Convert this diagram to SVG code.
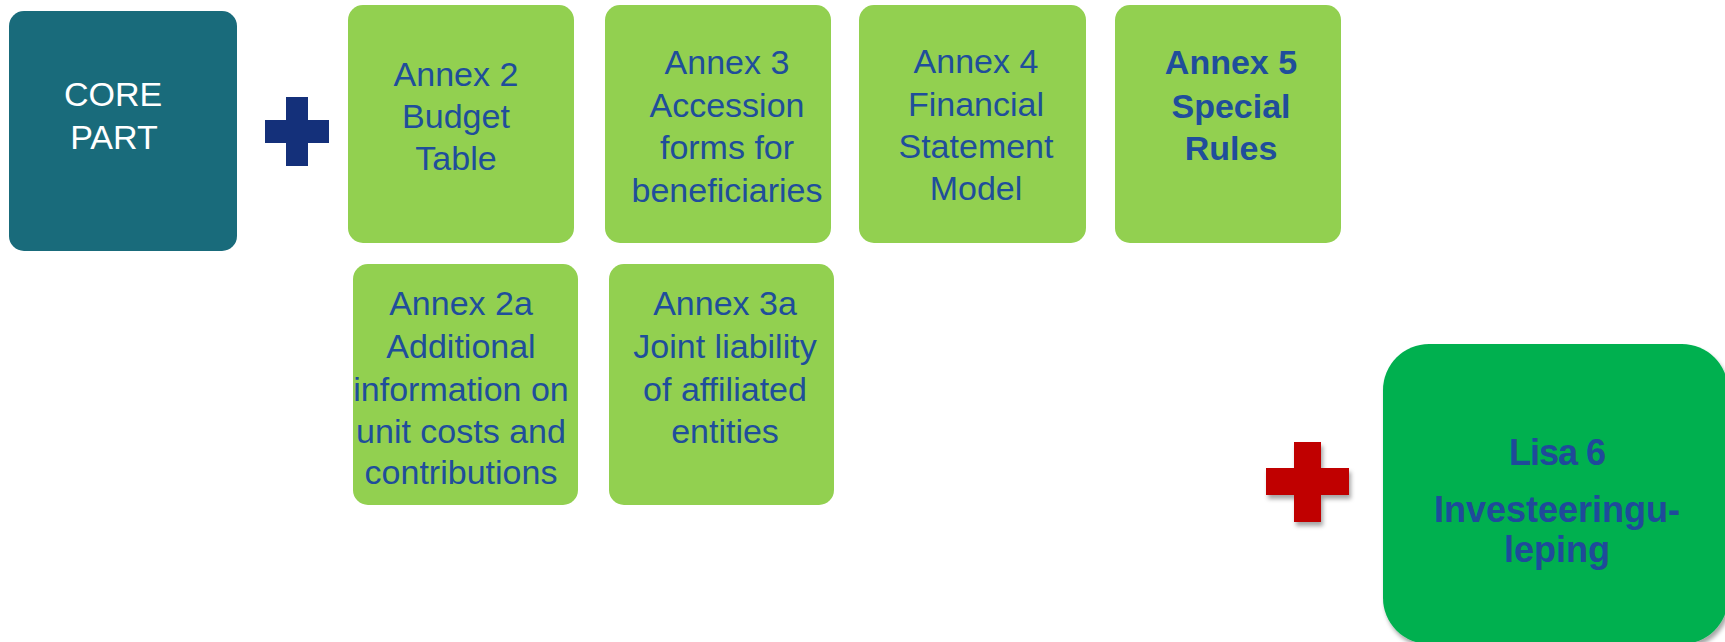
<svg xmlns="http://www.w3.org/2000/svg" width="1725" height="642" viewBox="0 0 1725 642">
  <defs>
    <style>
      .annex { fill: #92D050; }
      .t { font-family: "Liberation Sans", Arial, sans-serif; font-size: 34px; fill: #1F4E9B; text-anchor: middle; }
      .tb { font-weight: bold; }
      .core { font-family: "Liberation Sans", Arial, sans-serif; font-size: 34px; fill: #FFFFFF; text-anchor: middle; }
      .lisa { font-family: "Liberation Sans", Arial, sans-serif; font-size: 36px; font-weight: bold; fill: #1F4A9A; text-anchor: middle; }
    </style>
    <filter id="sh" x="-20%" y="-20%" width="150%" height="150%">
      <feGaussianBlur in="SourceAlpha" stdDeviation="2"/>
      <feOffset dx="2" dy="4" result="b"/>
      <feFlood flood-color="#000000" flood-opacity="0.35"/>
      <feComposite in2="b" operator="in"/>
      <feMerge><feMergeNode/><feMergeNode in="SourceGraphic"/></feMerge>
    </filter>
  </defs>
  <rect width="1725" height="642" fill="#FFFFFF"/>

  <g id="core">
    <rect x="9" y="11" width="228" height="240" rx="15" fill="#196B7B"/>
    <text class="core" x="113" y="106">CORE</text>
    <text class="core" x="114" y="149">PART</text>
  </g>

  <g id="plus-blue">
    <rect x="286" y="97" width="22" height="69" fill="#14307A"/>
    <rect x="265" y="120" width="64" height="23" fill="#14307A"/>
  </g>

  <g id="annex2">
    <rect class="annex" x="348" y="5" width="226" height="238" rx="15"/>
    <text class="t" x="456" y="86">Annex 2</text>
    <text class="t" x="456" y="128">Budget</text>
    <text class="t" x="456" y="170">Table</text>
  </g>

  <g id="annex3">
    <rect class="annex" x="605" y="5" width="226" height="238" rx="15"/>
    <text class="t" x="727" y="74">Annex 3</text>
    <text class="t" x="727" y="117">Accession</text>
    <text class="t" x="727" y="159">forms for</text>
    <text class="t" x="727" y="202">beneficiaries</text>
  </g>

  <g id="annex4">
    <rect class="annex" x="859" y="5" width="227" height="238" rx="15"/>
    <text class="t" x="976" y="73">Annex 4</text>
    <text class="t" x="976" y="116">Financial</text>
    <text class="t" x="976" y="158">Statement</text>
    <text class="t" x="976" y="200">Model</text>
  </g>

  <g id="annex5">
    <rect class="annex" x="1115" y="5" width="226" height="238" rx="15"/>
    <text class="t tb" x="1231" y="74">Annex 5</text>
    <text class="t tb" x="1231" y="118">Special</text>
    <text class="t tb" x="1231" y="160">Rules</text>
  </g>

  <g id="annex2a">
    <rect class="annex" x="353" y="264" width="225" height="241" rx="15"/>
    <text class="t" x="461" y="315">Annex 2a</text>
    <text class="t" x="461" y="358">Additional</text>
    <text class="t" x="461" y="401">information on</text>
    <text class="t" x="461" y="443">unit costs and</text>
    <text class="t" x="461" y="484">contributions</text>
  </g>

  <g id="annex3a">
    <rect class="annex" x="609" y="264" width="225" height="241" rx="15"/>
    <text class="t" x="725" y="315">Annex 3a</text>
    <text class="t" x="725" y="358">Joint liability</text>
    <text class="t" x="725" y="401">of affiliated</text>
    <text class="t" x="725" y="443">entities</text>
  </g>

  <g id="plus-red" filter="url(#sh)">
    <rect x="1294" y="442" width="27" height="80" fill="#C00000"/>
    <rect x="1266" y="468" width="83" height="27" fill="#C00000"/>
  </g>

  <g id="lisa6">
    <rect x="1383" y="344" width="345" height="300" rx="46" fill="#00B050" filter="url(#sh)"/>
    <text class="lisa" x="1557" y="465" letter-spacing="-1">Lisa 6</text>
    <text class="lisa" x="1557" y="522">Investeeringu-</text>
    <text class="lisa" x="1557" y="562">leping</text>
  </g>

  <g id="connectors"/>
</svg>
